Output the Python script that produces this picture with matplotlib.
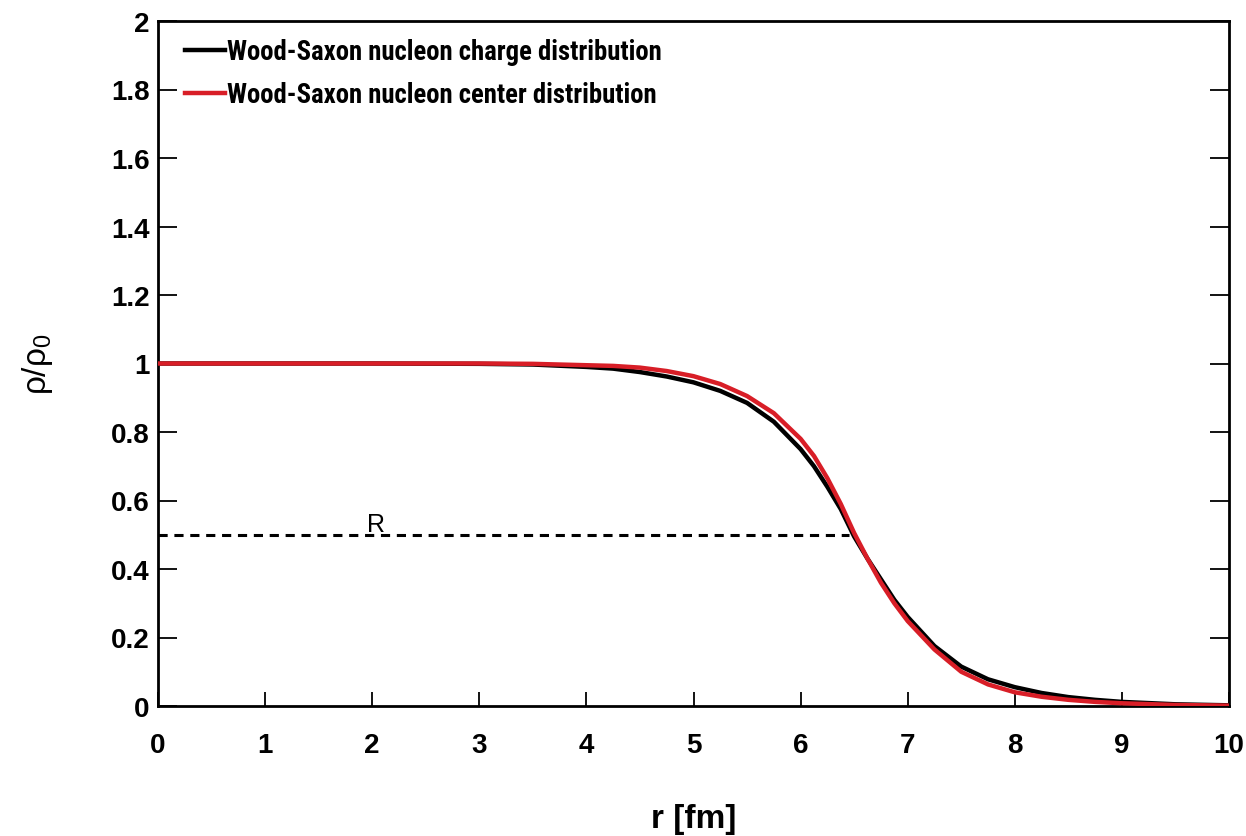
import matplotlib
matplotlib.use("Agg")
import matplotlib.pyplot as plt
from matplotlib import font_manager
from matplotlib.text import Text

# Data
r_vals = [0, 1, 2, 3, 3.5, 4, 4.25, 4.5, 4.75, 5, 5.25, 5.5, 5.75, 6, 6.125, 6.25, 6.375, 6.5,
          6.625, 6.75, 6.875, 7, 7.25, 7.5, 7.75, 8, 8.25, 8.5, 8.75, 9, 9.5, 10]
charge = [1, 1, 1, 0.999, 0.997, 0.99, 0.985, 0.975, 0.962, 0.945, 0.92, 0.885, 0.83, 0.75, 0.70,
          0.64, 0.575, 0.495, 0.43, 0.37, 0.31, 0.26, 0.175, 0.115, 0.078, 0.055, 0.038, 0.026,
          0.018, 0.012, 0.005, 0.002]
center = [1, 1, 1, 1, 0.999, 0.995, 0.993, 0.988, 0.978, 0.963, 0.94, 0.905, 0.855, 0.78, 0.73,
          0.665, 0.59, 0.505, 0.43, 0.36, 0.30, 0.248, 0.165, 0.10, 0.063, 0.04, 0.027, 0.018,
          0.012, 0.008, 0.003, 0.001]
R_x = [0, 6.45]
R_y = [0.5, 0.5]
labels = ["Wood-Saxon nucleon charge distribution", "Wood-Saxon nucleon center distribution"]
xticks = list(range(0, 11))
yticks = [0, 0.2, 0.4, 0.6, 0.8, 1, 1.2, 1.4, 1.6, 1.8, 2]
yticklabels = ["0", "0.2", "0.4", "0.6", "0.8", "1", "1.2", "1.4", "1.6", "1.8", "2"]

names = {f.name for f in font_manager.fontManager.ttflist}
leg_family = "Liberation Sans"
for cand in ["Liberation Sans Narrow", "DejaVu Sans Condensed", "Roboto Condensed"]:
    if cand in names:
        leg_family = cand
        break

fig = plt.figure(figsize=(12.46, 8.37), dpi=100)
ax = fig.add_axes([158/1246, 1-707/837, (1229-158)/1246, (707-22)/837])

red = "#d81e27"
ax.plot(R_x, R_y, color="black", lw=2.2, ls=(0, (3, 2.2)))
ax.plot(r_vals, charge, color="black", lw=3.2, label=labels[0], zorder=3)
ax.plot(r_vals, center, color=red, lw=3.2, label=labels[1], zorder=4)
ax.text(2.04, 0.497, "R", fontsize=18, ha="center", va="bottom", family="Liberation Sans")

ax.set_xlim(0, 10)
ax.set_ylim(0, 2)
ax.set_xticks(xticks)
ax.set_xticklabels([str(t) for t in xticks])
ax.set_yticks(yticks)
ax.set_yticklabels(yticklabels)
for lab in ax.get_xticklabels() + ax.get_yticklabels():
    lab.set_fontfamily("Liberation Sans")
    lab.set_fontweight("bold")
    lab.set_fontsize(20)
ax.tick_params(axis="x", direction="in", length=10, width=1.3, pad=19)
ax.tick_params(axis="y", direction="in", length=14, width=1.3, pad=6, right=True)
for s in ax.spines.values():
    s.set_linewidth(2)

ax.set_xlabel("r [fm]", fontsize=24, fontweight="bold", family="Liberation Sans", labelpad=32)
ax.set_ylabel("ρ/ρ$_\\mathregular{0}$", fontsize=24, family="Liberation Sans", labelpad=40)

# fit legend font so the first label is ~435 px wide as in the reference
fs = 20.0
renderer = fig.canvas.get_renderer()
probe = Text(0, 0, labels[0], fontsize=fs, fontweight="bold", family=leg_family)
probe.set_figure(fig)
w = probe.get_window_extent(renderer).width
fs = min(20.0, fs * 435.0 / w)
fs_px = fs * 100 / 72.0

leg = ax.legend(loc="upper left", bbox_to_anchor=(27/1071, 1 - 17/685), frameon=False,
                handlelength=40/fs_px, handletextpad=2/fs_px,
                labelspacing=(43 - fs_px) / fs_px, borderaxespad=0, borderpad=0,
                prop={"family": leg_family, "weight": "bold", "size": fs})

fig.savefig("out.png", dpi=100)
